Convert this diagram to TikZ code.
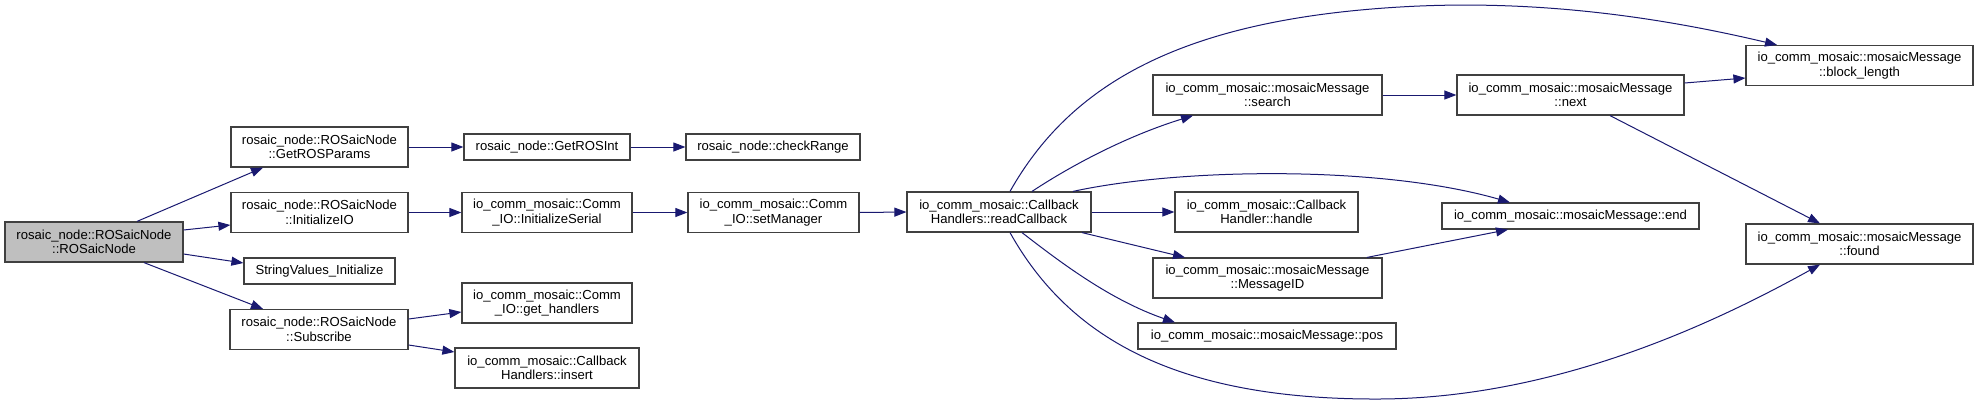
\documentclass[tikz,border=0pt]{standalone}
\usepackage{fontspec}
\setmainfont{Liberation Sans}
\usetikzlibrary{arrows.meta}
\definecolor{edgecol}{RGB}{25,25,112}
\definecolor{rootfill}{RGB}{191,191,191}
\definecolor{boxline}{RGB}{64,64,64}
\tikzset{
  fn/.style={draw=boxline, line width=1.2pt, fill=white, align=center, inner sep=0pt,
    font=\fontsize{13.1}{14.5}\selectfont, text=black},
  two/.style={minimum height=40pt},
  one/.style={minimum height=26pt},
  edge/.style={draw=edgecol, line width=1pt, -{Triangle[length=12pt,width=9pt]}}
}
\begin{document}
\begin{tikzpicture}[x=1pt,y=-1pt]
\useasboundingbox (0,0) rectangle (1979,405);
% nodes
\node[fn,two,fill=rootfill,minimum width=178pt] (root) at (94,242) {rosaic\_node::ROSaicNode\\::ROSaicNode};
\node[fn,two,minimum width=177pt] (getparams) at (319.5,147) {rosaic\_node::ROSaicNode\\::GetROSParams};
\node[fn,two,minimum width=177pt] (initio) at (319.5,212.5) {rosaic\_node::ROSaicNode\\::InitializeIO};
\node[fn,one,minimum width=151pt] (strval) at (319.5,271) {StringValues\_Initialize};
\node[fn,two,minimum width=178pt] (subscribe) at (319,329.5) {rosaic\_node::ROSaicNode\\::Subscribe};
\node[fn,one,minimum width=166pt] (getrosint) at (547,147) {rosaic\_node::GetROSInt};
\node[fn,one,minimum width=174pt] (checkrange) at (773,147) {rosaic\_node::checkRange};
\node[fn,two,minimum width=170pt] (initserial) at (547,212.5) {io\_comm\_mosaic::Comm\\\_IO::InitializeSerial};
\node[fn,two,minimum width=171pt] (setmgr) at (773.5,212.5) {io\_comm\_mosaic::Comm\\\_IO::setManager};
\node[fn,two,minimum width=170pt] (gethandlers) at (547,303) {io\_comm\_mosaic::Comm\\\_IO::get\_handlers};
\node[fn,two,minimum width=184pt] (insert) at (547,368) {io\_comm\_mosaic::Callback\\Handlers::insert};
\node[fn,two,minimum width=184pt] (readcb) at (999,212) {io\_comm\_mosaic::Callback\\Handlers::readCallback};
\node[fn,two,minimum width=229pt] (search) at (1267.5,95) {io\_comm\_mosaic::mosaicMessage\\::search};
\node[fn,two,minimum width=183pt] (handle) at (1266.5,212) {io\_comm\_mosaic::Callback\\Handler::handle};
\node[fn,two,minimum width=229pt] (msgid) at (1267.5,278) {io\_comm\_mosaic::mosaicMessage\\::MessageID};
\node[fn,one,minimum width=258pt] (pos) at (1267,336) {io\_comm\_mosaic::mosaicMessage::pos};
\node[fn,two,minimum width=227pt] (next) at (1570.5,95) {io\_comm\_mosaic::mosaicMessage\\::next};
\node[fn,one,minimum width=257pt] (end) at (1570.5,216) {io\_comm\_mosaic::mosaicMessage::end};
\node[fn,two,minimum width=227pt] (blocklen) at (1859.5,65.5) {io\_comm\_mosaic::mosaicMessage\\::block\_length};
\node[fn,two,minimum width=227pt] (found) at (1859.5,244) {io\_comm\_mosaic::mosaicMessage\\::found};
% edges
\draw[edge] ([xshift=43pt]root.north) -- ([xshift=-56.5pt]getparams.south);
\draw[edge] ([yshift=12pt]root.east) -- ([yshift=-12.5pt]initio.west);
\draw[edge] ([yshift=-12pt]root.east) -- ([yshift=8pt]strval.west);
\draw[edge] ([xshift=50pt]root.south) -- ([xshift=-56pt]subscribe.north);
\draw[edge] (getparams.east |- getrosint.west) -- (getrosint.west);
\draw[edge] (getrosint.east) -- (checkrange.west);
\draw[edge] (initio.east) -- (initserial.west);
\draw[edge] (initserial.east) -- (setmgr.west);
\draw[edge] (setmgr.east) -- (readcb.west);
\draw[edge] ([yshift=10.5pt]subscribe.east) -- ([yshift=-9pt]gethandlers.west);
\draw[edge] ([yshift=-15.5pt]subscribe.east) -- ([yshift=16pt]insert.west);
\draw[edge] ([xshift=11pt]readcb.north) .. controls (1070,85) and (1180,20) .. (1400,7)
  .. controls (1550,-2) and (1680,22) .. ([xshift=-82.5pt]blocklen.north);
\draw[edge] ([xshift=33pt]readcb.north) .. controls (1075,163) and (1130,135) .. ([xshift=-74.5pt]search.south);
\draw[edge] ([xshift=74pt]readcb.north) .. controls (1180,168) and (1380,165) .. ([xshift=-60.5pt]end.north);
\draw[edge] (readcb.east) -- (handle.west);
\draw[edge] ([xshift=83pt]readcb.south) -- ([xshift=-82.5pt]msgid.north);
\draw[edge] ([xshift=23pt]readcb.south) .. controls (1060,262) and (1110,300) .. ([xshift=-92pt]pos.north);
\draw[edge] ([xshift=11pt]readcb.south) .. controls (1070,340) and (1180,400) .. (1380,399)
  .. controls (1560,398) and (1720,320) .. ([xshift=-39.5pt]found.south);
\draw[edge] (search.east) -- (next.west);
\draw[edge] ([yshift=12pt]next.east) -- ([yshift=-12.5pt]blocklen.west);
\draw[edge] ([xshift=39.5pt]next.south) -- ([xshift=-39.5pt]found.north);
\draw[edge] ([xshift=99.5pt]msgid.north) -- ([xshift=-62.5pt]end.south);
\end{tikzpicture}
\end{document}
